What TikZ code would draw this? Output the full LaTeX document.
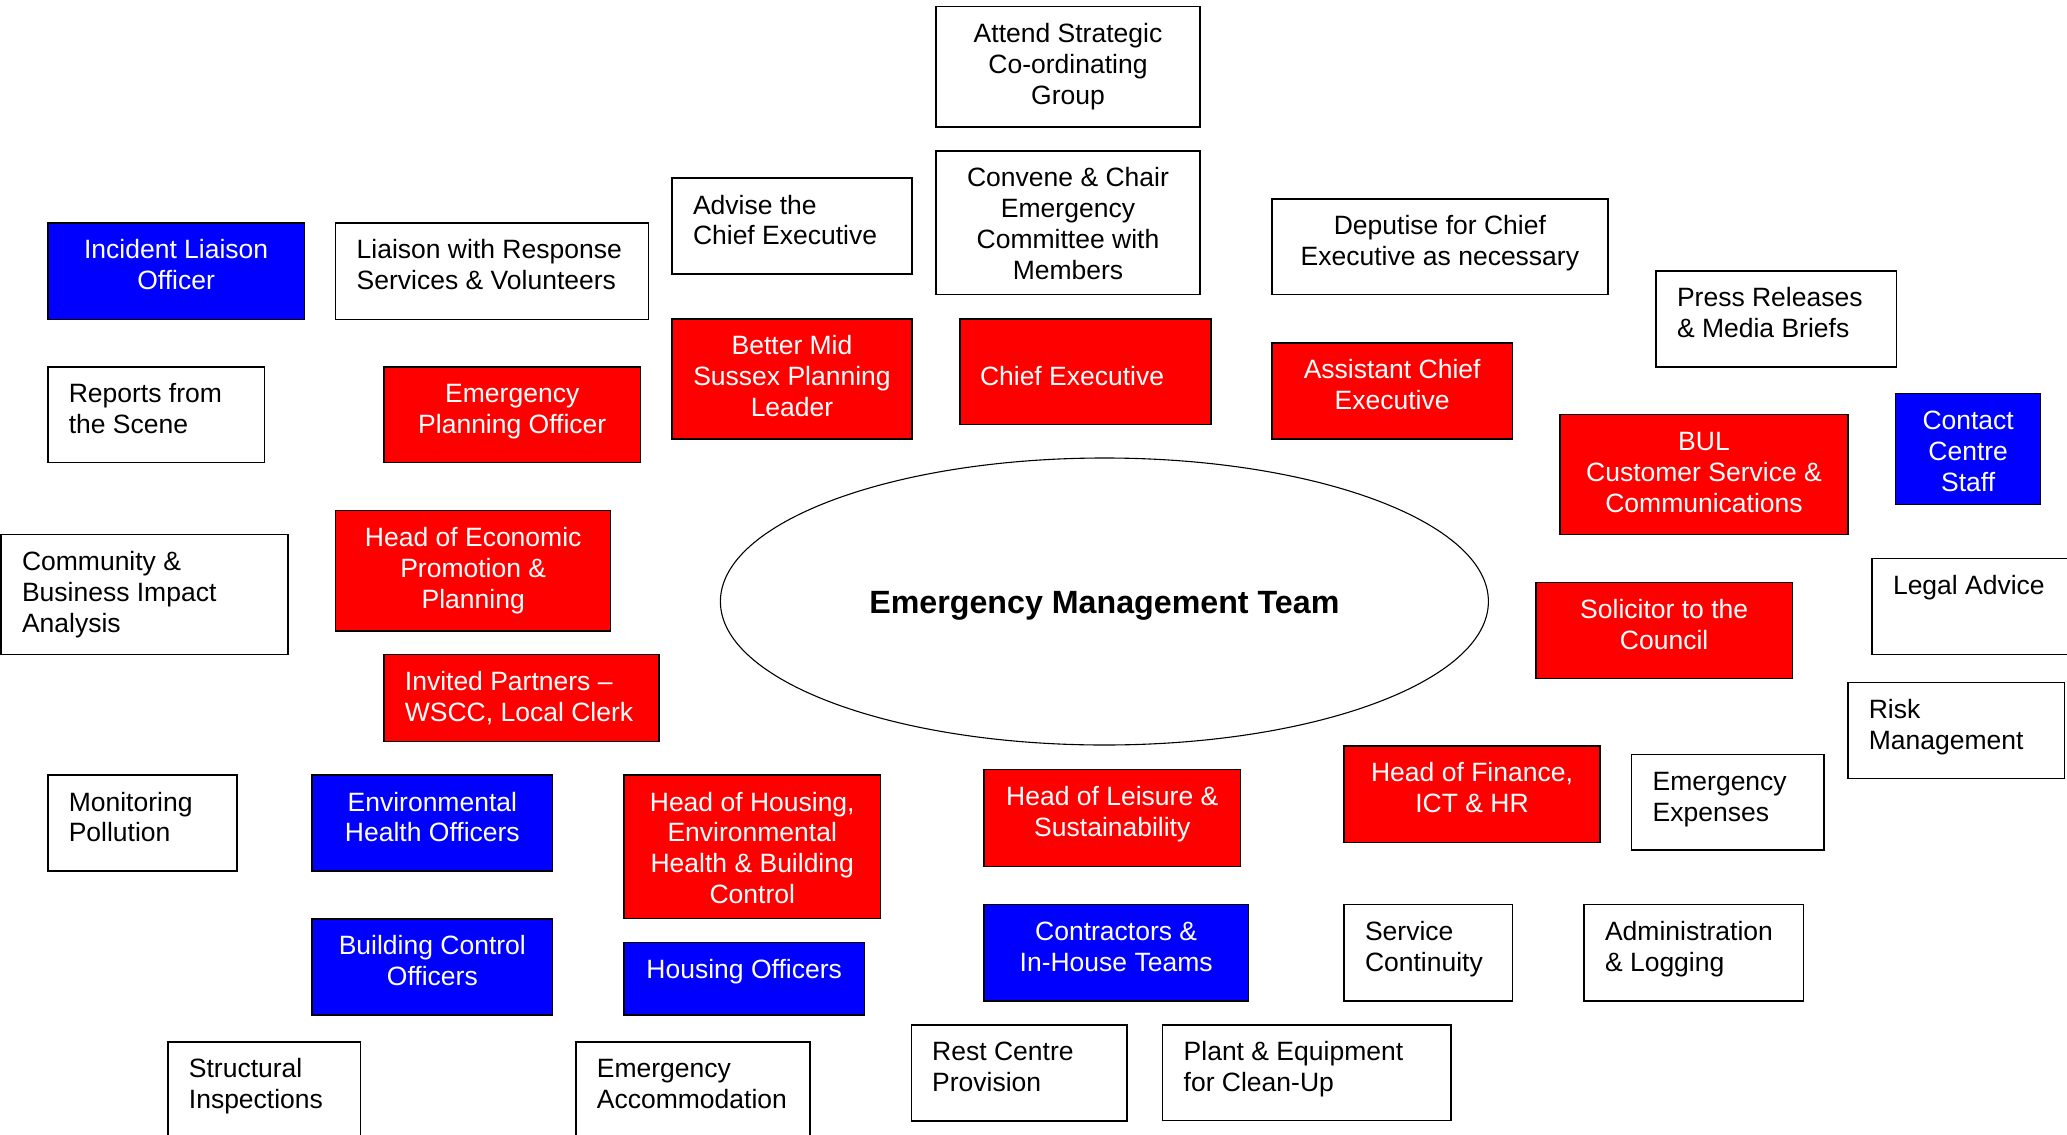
\documentclass[tikz,border=0pt]{standalone}
\usepackage{fontspec}
\setmainfont{Liberation Sans}
\usetikzlibrary{shapes.geometric}

% body text and heading sizes (1pt = 1 unit of the picture)
\newcommand\fs{\fontsize{26.5pt}{30.8pt}\selectfont}
\newcommand\bfs{\fontsize{32.2pt}{36pt}\selectfont\bfseries}
% fixed-height strut so every first line sits at the same depth
\newcommand\fl{\rule{0pt}{24pt}}

% box: style, name, left, top, right, bottom
\newcommand\bx[6]{%
  \pgfmathsetmacro\bxw{#5-#3}\pgfmathsetmacro\bxh{#6-#4}%
  \node[#1, minimum width=\bxw pt, minimum height=\bxh pt, anchor=north west] (#2) at (#3,#4) {};}
% centred text in a box
\newcommand\ctext[3][black]{%
  \node[lbl, text=#1, anchor=north, align=center] at ([yshift=-12pt]#2.north) {\fl #3};}
% left-aligned text in a box
\newcommand\ltext[3][black]{%
  \node[lbl, text=#1, anchor=north west, align=left] at ([xshift=21pt,yshift=-12pt]#2.north west) {\fl #3};}

\tikzset{
  boxbase/.style={draw=black, line width=1.4pt, inner sep=0pt, outer sep=0pt},
  wbox/.style={boxbase, fill=white},
  rbox/.style={boxbase, fill=red},
  bbox/.style={boxbase, fill=blue},
  lbl/.style={inner sep=0pt, outer sep=0pt, font=\fs},
}

\begin{document}
\begin{tikzpicture}[x=1pt, y=-1pt]
\useasboundingbox (0,0) rectangle (2067,1135);
\clip (0,0) rectangle (2067,1135);

% central team
\node[draw=black, ellipse, line width=1.1pt, minimum width=768pt, minimum height=287pt,
      inner sep=0pt] (emt) at (1104.4,601.5) {};
\node[inner sep=0pt, anchor=base, font=\bfs] (emtlabel) at ([yshift=-11.5pt]emt.center) {Emergency Management Team};

% top row
\bx{wbox}{attend}{936}{6.5}{1200}{126.9}
\ctext{attend}{Attend Strategic\\Co-ordinating\\Group}
\bx{wbox}{convene}{936}{150.9}{1200}{294.4}
\ctext{convene}{Convene \& Chair\\Emergency\\Committee with\\Members}
\bx{wbox}{advise}{672}{178.1}{912}{274.1}
\ltext{advise}{Advise the\\Chief Executive}
\bx{wbox}{deputise}{1271.8}{198.8}{1608}{294.4}
\ctext{deputise}{Deputise for Chief\\Executive as necessary}
\bx{bbox}{incident}{47.8}{222.8}{304.5}{319.2}
\ctext[white]{incident}{Incident Liaison\\Officer}
\bx{wbox}{liaison}{335.7}{222.8}{648.2}{319.2}
\ltext{liaison}{Liaison with Response\\Services \& Volunteers}
\bx{wbox}{press}{1656}{270.8}{1896.5}{366.8}
\ltext{press}{Press Releases\\\& Media Briefs}

% officers around the team
\bx{rbox}{better}{672}{318.8}{912}{438.8}
\ctext[white]{better}{Better Mid\\Sussex Planning\\Leader}
\bx{rbox}{chief}{960}{318.8}{1211}{424.2}
\node[lbl, text=white, anchor=north west, align=left] at ([xshift=20pt,yshift=-12pt]chief.north west) {\fl\\Chief Executive};
\bx{rbox}{assistant}{1271.8}{342.8}{1512.5}{438.8}
\ctext[white]{assistant}{Assistant Chief\\Executive}
\bx{wbox}{reports}{47.8}{366.8}{264.3}{462.7}
\ltext{reports}{Reports from\\the Scene}
\bx{rbox}{epo}{383.9}{366.8}{640.6}{462.7}
\ctext[white]{epo}{Emergency\\Planning Officer}
\bx{bbox}{contact}{1895.6}{393.7}{2040.7}{504.7}
\ctext[white]{contact}{Contact\\Centre\\Staff}
\bx{rbox}{bul}{1560}{414.4}{1848}{534.7}
\ctext[white]{bul}{BUL\\Customer Service \&\\Communications}
\bx{rbox}{econ}{335.7}{510.6}{610.7}{630.8}
\ctext[white]{econ}{Head of Economic\\Promotion \&\\Planning}
\bx{wbox}{community}{1}{534.5}{288}{654.7}
\ltext{community}{Community \&\\Business Impact\\Analysis}
\bx{wbox}{legal}{1872}{558.5}{2090}{654.7}
\ltext{legal}{Legal Advice}
\bx{rbox}{solicitor}{1535.8}{582.6}{1792.5}{678.6}
\ctext[white]{solicitor}{Solicitor to the\\Council}
\bx{rbox}{invited}{383.9}{654.7}{658.9}{741.4}
\ltext[white]{invited}{Invited Partners –\\WSCC, Local Clerk}
\bx{wbox}{risk}{1847.8}{682.3}{2064.3}{778.2}
\ltext{risk}{Risk\\Management}

% lower rows
\bx{rbox}{finance}{1344}{745.8}{1600}{842.2}
\ctext[white]{finance}{Head of Finance,\\ICT \& HR}
\bx{wbox}{expenses}{1631.7}{754.4}{1824.1}{850}
\ltext{expenses}{Emergency\\Expenses}
\bx{rbox}{leisure}{983.9}{769.7}{1240.7}{866.5}
\ctext[white]{leisure}{Head of Leisure \&\\Sustainability}
\bx{wbox}{monitoring}{47.8}{775}{237}{871}
\ltext{monitoring}{Monitoring\\Pollution}
\bx{bbox}{eho}{312}{775}{552.7}{871}
\ctext[white]{eho}{Environmental\\Health Officers}
\bx{rbox}{housing}{624}{775}{880.5}{918.4}
\ctext[white]{housing}{Head of Housing,\\Environmental\\Health \& Building\\Control}
\bx{bbox}{contractors}{983.9}{904.2}{1248.4}{1001}
\ctext[white]{contractors}{Contractors \&\\In-House Teams}
\bx{wbox}{service}{1344}{904.2}{1512.5}{1001}
\ltext{service}{Service\\Continuity}
\bx{wbox}{admin}{1584}{904.2}{1803.6}{1001}
\ltext{admin}{Administration\\\& Logging}
\bx{bbox}{bco}{312}{918.8}{552.7}{1014.8}
\ctext[white]{bco}{Building Control\\Officers}
\bx{bbox}{hsgoff}{624}{942.7}{864.3}{1014.8}
\ctext[white]{hsgoff}{Housing Officers}
\bx{wbox}{rest}{911.2}{1024.9}{1126.9}{1120.9}
\ltext{rest}{Rest Centre\\Provision}
\bx{wbox}{plant}{1162.7}{1024.9}{1450.9}{1120.7}
\ltext{plant}{Plant \& Equipment\\for Clean-Up}
\bx{wbox}{structural}{167.9}{1041.9}{360.3}{1160}
\ltext{structural}{Structural\\Inspections}
\bx{wbox}{accom}{575.9}{1041.9}{809.8}{1160}
\ltext{accom}{Emergency\\Accommodation}
\end{tikzpicture}
\end{document}
